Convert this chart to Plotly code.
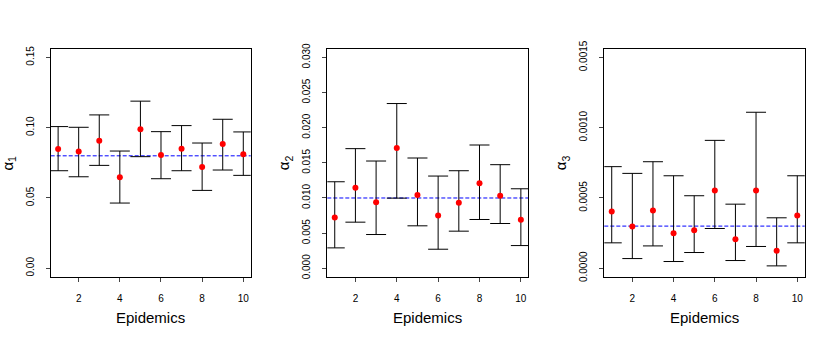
import plotly.graph_objects as go

# Epidemic index
epidemics = [1, 2, 3, 4, 5, 6, 7, 8, 9, 10]

# alpha_1 estimates with interval bounds
alpha1_est = [0.0849, 0.0830, 0.0908, 0.0647, 0.0989, 0.0806, 0.0851, 0.0720, 0.0884, 0.0811]
alpha1_low = [0.0694, 0.0651, 0.0732, 0.0464, 0.0794, 0.0637, 0.0694, 0.0554, 0.0699, 0.0661]
alpha1_up = [0.1008, 0.1003, 0.1091, 0.0834, 0.1189, 0.0972, 0.1015, 0.0891, 0.1060, 0.0970]

# alpha_2 estimates with interval bounds
alpha2_est = [0.00723, 0.01146, 0.00941, 0.01711, 0.01041, 0.00751, 0.00932, 0.01208, 0.01032, 0.00689]
alpha2_low = [0.00290, 0.00656, 0.00480, 0.00998, 0.00604, 0.00271, 0.00528, 0.00694, 0.00637, 0.00323]
alpha2_up = [0.01231, 0.01702, 0.01526, 0.02344, 0.01569, 0.01312, 0.01388, 0.01754, 0.01474, 0.01131]

# alpha_3 estimates with interval bounds
alpha3_est = [0.000404, 0.000297, 0.000411, 0.000250, 0.000271, 0.000554, 0.000207, 0.000554, 0.000124, 0.000376]
alpha3_low = [0.000181, 0.000069, 0.000159, 0.000048, 0.000112, 0.000283, 0.000055, 0.000155, 0.000017, 0.000181]
alpha3_up = [0.000723, 0.000675, 0.000758, 0.000658, 0.000516, 0.000910, 0.000456, 0.001110, 0.000359, 0.000658]

# true parameter values (dashed reference lines)
alpha_true = [0.08, 0.01, 0.0003]

y_max = [0.15, 0.030, 0.0015]
y_step = [0.05, 0.005, 0.0005]
y_format = [".2f", ".3f", ".4f"]
y_titles = ["α<sub>1</sub>", "α<sub>2</sub>", "α<sub>3</sub>"]
x_tickvals = [2, 4, 6, 8, 10]

panels = [
    (alpha1_est, alpha1_low, alpha1_up),
    (alpha2_est, alpha2_low, alpha2_up),
    (alpha3_est, alpha3_low, alpha3_up),
]

W, H = 830, 340
x_dom_px = [(50.7, 250.7), (327.3, 528.3), (604.3, 804.7)]
y_dom_px = (49, 276.7)
FONT = "Liberation Sans, Arial, sans-serif"

fig = go.Figure()
layout = {}
for i, (est, low, up) in enumerate(panels):
    n = "" if i == 0 else str(i + 1)
    xa, ya = "x" + n, "y" + n
    fig.add_trace(go.Scatter(
        x=epidemics, y=est, mode="markers",
        marker=dict(color="#ff0000", size=6),
        error_y=dict(
            type="data",
            array=[u - e for u, e in zip(up, est)],
            arrayminus=[e - l for e, l in zip(est, low)],
            color="black", thickness=1, width=10,
        ),
        xaxis=xa, yaxis=ya, showlegend=False,
    ))
    fig.add_shape(
        type="line", xref=xa + " domain", yref=ya, x0=0, x1=1,
        y0=alpha_true[i], y1=alpha_true[i], layer="below",
        line=dict(color="#0000ff", width=1, dash="4px,2px"),
    )
    pad = 0.04 * y_max[i]
    layout["xaxis" + n] = dict(
        domain=[x_dom_px[i][0] / W, x_dom_px[i][1] / W], anchor=ya,
        range=[0.64, 10.36], tickvals=x_tickvals, ticks="outside", ticklen=4,
        showgrid=False, zeroline=False, showline=True, mirror=True,
        automargin=False, ticklabelstandoff=8,
        linecolor="black", linewidth=1, tickfont=dict(size=10, color="black"),
    )
    layout["yaxis" + n] = dict(
        domain=[1 - y_dom_px[1] / H, 1 - y_dom_px[0] / H], anchor=xa,
        range=[-pad, y_max[i] + pad], tick0=0, dtick=y_step[i],
        tickformat=y_format[i], tickangle=-90, ticks="outside", ticklen=4,
        showgrid=False, zeroline=False, showline=True, mirror=True,
        automargin=False, ticklabelstandoff=8,
        linecolor="black", linewidth=1, tickfont=dict(size=10, color="black"),
    )
    fig.add_annotation(
        text="Epidemics", xref=xa + " domain", yref=ya + " domain",
        x=0.5, y=0, yshift=-41, showarrow=False, yanchor="middle",
        font=dict(size=15, color="black"),
    )
    fig.add_annotation(
        text=y_titles[i], xref=xa + " domain", yref=ya + " domain",
        x=0, y=0.5, xshift=-42, textangle=-90, showarrow=False,
        xanchor="center", yanchor="middle",
        font=dict(size=15, color="black"),
    )

fig.update_layout(
    width=W, height=H,
    margin=dict(l=0, r=0, t=0, b=0),
    paper_bgcolor="white", plot_bgcolor="white",
    font=dict(family=FONT, color="black"),
    **layout,
)

# drop the default page margin so the figure sits at the window corner
fig.write_html(
    "out.html",
    config={"displayModeBar": False},
    post_script="document.body.style.margin='0';",
)
